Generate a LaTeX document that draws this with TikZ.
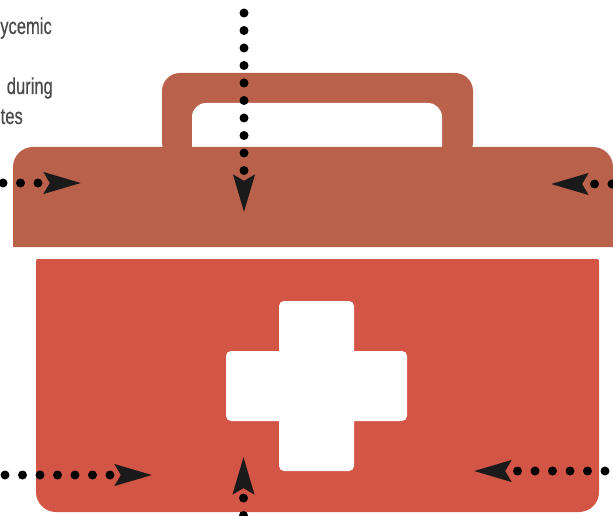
\documentclass[tikz,border=0pt]{standalone}
\usepackage{fontspec}
\newfontfamily\narrowfont[FakeStretch=0.72, FakeBold=0.4]{Liberation Sans}
\usetikzlibrary{arrows.meta}
\definecolor{clid}{HTML}{B9614B}
\definecolor{cbody}{HTML}{D25545}
\definecolor{ctext}{HTML}{4A4A4A}
\definecolor{chead}{HTML}{1A1A1A}
\tikzset{
  lidpart/.style={fill=clid, draw=none},
  bodypart/.style={fill=cbody, draw=none},
  hole/.style={fill=white, draw=none},
  note/.style={font=\narrowfont\fontsize{23}{23}\selectfont, text=ctext, inner sep=0pt, anchor=base east},
  dotarrow/.style={-{Stealth[length=37pt, width=20pt, inset=5pt, color=chead]}, line width=9pt, line cap=round,
                   dash pattern=on 0pt off 17.5pt, draw=black},
}
\begin{document}
\begin{tikzpicture}[x=1pt, y=-1pt]
  \useasboundingbox[fill=white] (0, 0) rectangle (613, 516);
  % handle
  \path[lidpart, rounded corners=18pt] (162, 160) -- (162, 73) -- (473, 73) -- (473, 160) -- cycle;
  \path[hole, rounded corners=14pt] (192, 160) -- (192, 103) -- (442, 103) -- (442, 160) -- cycle;
  % lid
  \path[lidpart, rounded corners=20pt] (13, 247) [sharp corners] -- (13, 247) [rounded corners=20pt] -- (13, 147)
    -- (613, 147) -- (613, 247) [sharp corners] -- (613, 247) -- cycle;
  % body
  \path[bodypart, rounded corners=2pt] (36, 259) -- (599, 259) [rounded corners=20pt] -- (599, 512) -- (36, 512)
    [rounded corners=2pt] -- cycle;
  % cross
  \path[hole, rounded corners=5pt] (279, 301) -- (354, 301) [sharp corners] -- (354, 351) [rounded corners=5pt]
    -- (407, 351) -- (407, 421) [sharp corners] -- (354, 421) [rounded corners=5pt] -- (354, 471) -- (279, 471)
    [sharp corners] -- (279, 421) [rounded corners=5pt] -- (226, 421) -- (226, 351) [sharp corners] -- (279, 351)
    [rounded corners=5pt] -- cycle;
  % texts
  \node[note] (t1) at (52, 34) {ycemic};
  \node[note] (t2) at (53, 94) {during};
  \node[note] (t3) at (23, 124) {tes};
  % connectors
  \coordinate (a0) at (244, 13);
  \coordinate (a1) at (244, 213);
  \coordinate (b0) at (3, 183);
  \coordinate (b1) at (82, 183);
  \coordinate (c0) at (612, 184);
  \coordinate (c1) at (550, 184);
  \coordinate (d0) at (5, 475);
  \coordinate (d1) at (153, 475);
  \coordinate (e0) at (243.5, 515.5);
  \coordinate (e1) at (243.5, 456);
  \coordinate (f0) at (605, 471);
  \coordinate (f1) at (473, 471);
  \foreach \u/\v in {a0/a1, b0/b1, c0/c1, d0/d1, e0/e1, f0/f1} \draw[dotarrow] (\u) -- (\v);
\end{tikzpicture}
\end{document}
